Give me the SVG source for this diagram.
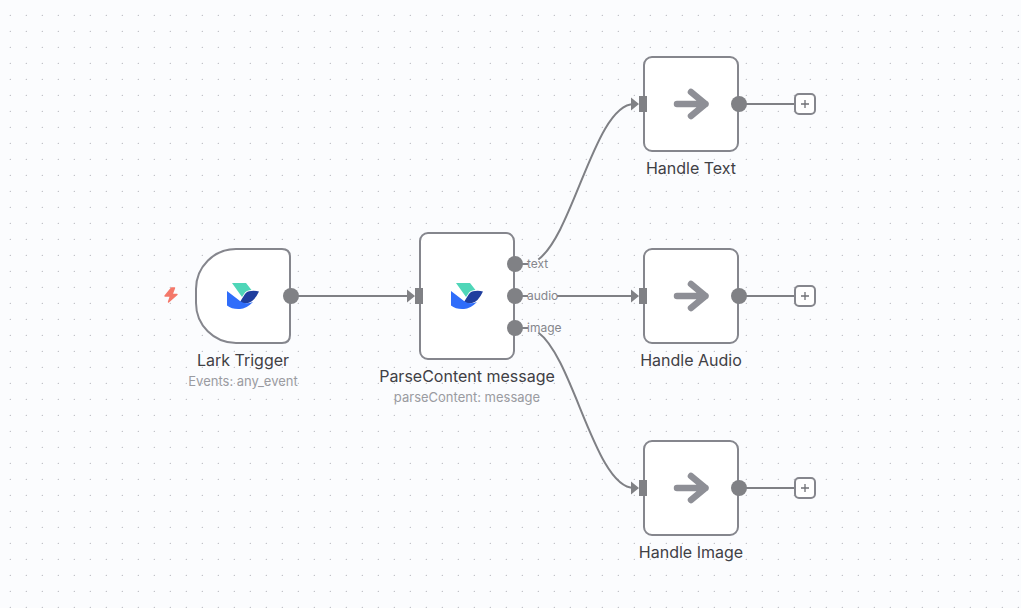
<svg xmlns="http://www.w3.org/2000/svg" width="1021" height="608" viewBox="0 0 1021 608">
<style>
text{font-family:Inter,"Liberation Sans",sans-serif;text-anchor:middle}
.box{fill:#fff;stroke:#85868d;stroke-width:2}
.port{fill:#808185}
.wire{fill:none;stroke:#7f8085;stroke-width:2}
.name{font-size:16px;fill:#3f4045}
.sub{font-size:13px;fill:#9a9ba1}
.lab{font-size:12px;fill:#85868c;text-anchor:start}
.arrow{fill:none;stroke:#8e8f96;stroke-width:6.500;stroke-linecap:round;stroke-linejoin:round}
.plus{stroke:#6f7076;stroke-width:1.300;fill:none}
</style>
<defs>
<pattern id="dots" x="2" y="7" width="16" height="16" patternUnits="userSpaceOnUse"><circle cx="8.3" cy="8.3" r="0.65" fill="#b0b1b8"/></pattern>
<g id="lark">
<path d="M-11-13H3L8.500-6Q4-6 2-3.500L-1 1Q-6-6-11-13Z" fill="#4fd6b8"/>
<path d="M-3 6Q0 1 2-2Q4-5 8-5Q12-5.500 16-4.500Q11 6 5 7Q0 8-3 6Z" fill="#1f3e9e"/>
<path d="M-16-5L-3 5Q2 9 10 6Q3 13-3 13Q-11 13.500-16 9.500Z" fill="#2f6dfa"/>
</g>
<g id="arr"><path class="arrow" d="M-14 0H14.500M0-12L14.500 0L0 12"/></g>
<g id="inp"><path class="port" d="M-12-6.500L-4 0L-12 6.500ZM-4-8H4V8H-4Z"/></g>
</defs>
<rect width="1021" height="608" fill="#fbfcfe"/>
<rect width="1021" height="608" fill="url(#dots)"/>
<g id="connectors">
<path class="wire" d="M291 296H410"/>
<path class="wire" d="M515 264H528M538.300 259.500C573.600 233.600 595.300 104 634 104"/>
<path class="wire" d="M515 296H528M557 296H634"/>
<path class="wire" d="M515 328H528M538.300 332.500C573.600 358.400 595.300 488 634 488"/>
<path class="wire" d="M739 104H795M739 296H795M739 488H795"/>
</g>
<g id="lark-trigger">
<path class="box" d="M236 249H282Q290 249 290 257V335Q290 343 282 343H236A40 40 0 0 1 196 303V289A40 40 0 0 1 236 249Z"/>
<use href="#lark" x="243" y="296"/>
<circle class="port" cx="291" cy="296" r="8"/>
<path d="M171.500 288L165 296H170.500L168.500 302L177 294.500H172L174.500 288Z" fill="#f4786a" stroke="#f4786a" stroke-width="1.400" stroke-linejoin="round"/>
<text class="name" x="243" y="366">Lark Trigger</text>
<text class="sub" x="243" y="386">Events: any_event</text>
</g>
<g id="parse-content">
<rect class="box" x="420" y="233" width="94" height="126" rx="8"/>
<use href="#lark" x="467" y="296"/>
<use href="#inp" x="419" y="296"/>
<circle class="port" cx="515" cy="264" r="8"/>
<circle class="port" cx="515" cy="296" r="8"/>
<circle class="port" cx="515" cy="328" r="8"/>
<text class="lab" x="527" y="268">text</text>
<text class="lab" x="527" y="300">audio</text>
<text class="lab" x="527" y="332">image</text>
<text class="name" x="467" y="382">ParseContent message</text>
<text class="sub" x="467" y="402">parseContent: message</text>
</g>
<g id="handle-text">
<rect class="box" x="644" y="57" width="94" height="94" rx="8"/>
<use href="#arr" x="691" y="104"/>
<use href="#inp" x="643" y="104"/>
<circle class="port" cx="739" cy="104" r="8"/>
<text class="name" x="691" y="174">Handle Text</text>
<rect class="box" x="795" y="94" width="20" height="20" rx="4"/>
<path class="plus" d="M801 104H809M805 100V108"/>
</g>
<g id="handle-audio">
<rect class="box" x="644" y="249" width="94" height="94" rx="8"/>
<use href="#arr" x="691" y="296"/>
<use href="#inp" x="643" y="296"/>
<circle class="port" cx="739" cy="296" r="8"/>
<text class="name" x="691" y="366">Handle Audio</text>
<rect class="box" x="795" y="286" width="20" height="20" rx="4"/>
<path class="plus" d="M801 296H809M805 292V300"/>
</g>
<g id="handle-image">
<rect class="box" x="644" y="441" width="94" height="94" rx="8"/>
<use href="#arr" x="691" y="488"/>
<use href="#inp" x="643" y="488"/>
<circle class="port" cx="739" cy="488" r="8"/>
<text class="name" x="691" y="558">Handle Image</text>
<rect class="box" x="795" y="478" width="20" height="20" rx="4"/>
<path class="plus" d="M801 488H809M805 484V492"/>
</g>
</svg>
